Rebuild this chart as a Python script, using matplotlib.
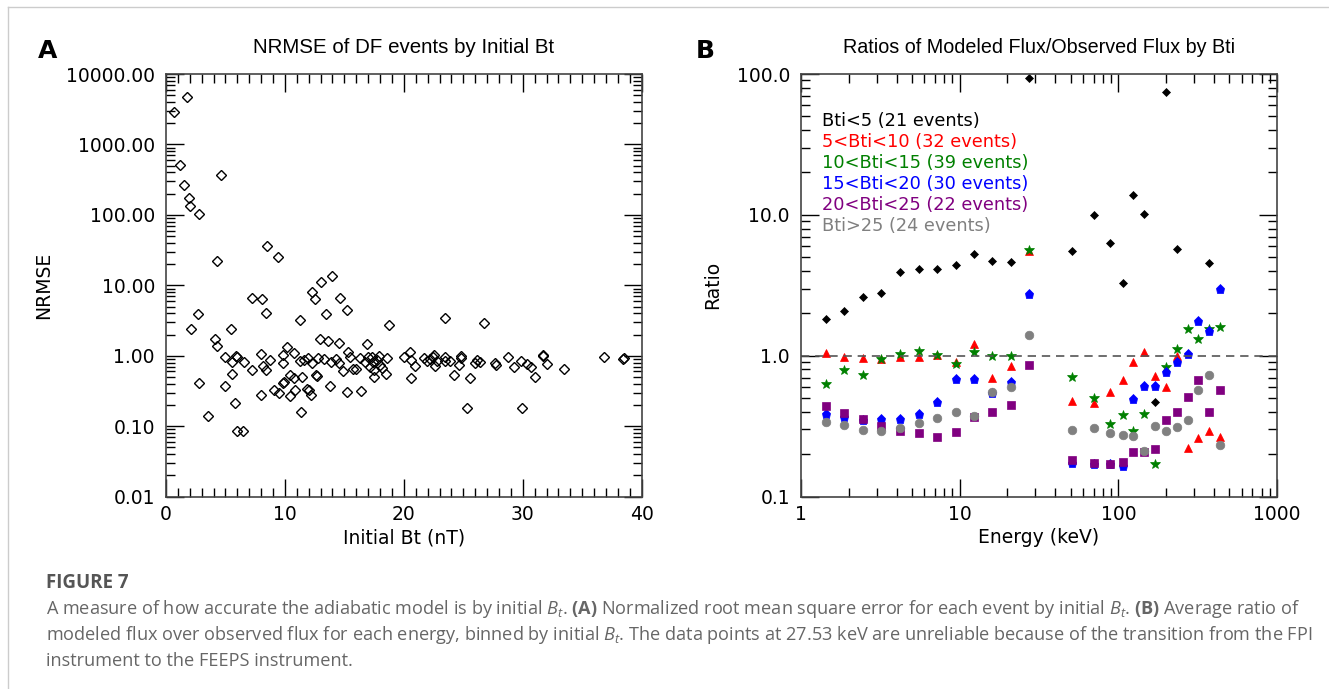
import numpy as np
import matplotlib
matplotlib.use('Agg')
import matplotlib.pyplot as plt
from matplotlib.ticker import FixedLocator, LogLocator, NullFormatter
from matplotlib.lines import Line2D

# panel A: NRMSE of each DF event vs initial Bt
bt_initial = [1.74, 0.67, 1.21, 4.6, 1.54, 1.96, 2.05, 2.75, 8.48, 9.38, 4.32, 13.98, 13.06, 12.24,
              7.27, 8.06, 12.49, 14.6, 15.22,
              2.72, 8.42, 13.43, 2.11, 5.45, 11.23, 18.76, 4.1, 4.32, 12.91, 13.59, 14.55, 16.9, 10.17,
              10.78, 15.27, 4.92, 5.92, 6.0, 6.57, 5.56, 8.0, 8.17, 8.74, 9.8, 9.83, 7.22, 8.42, 5.59,
              11.23, 11.57, 11.96, 12.27, 12.75, 13.31, 13.85, 14.3, 14.55, 14.85, 15.5, 15.75, 16.0,
              16.3, 16.7, 16.97, 17.35, 17.42, 17.52, 17.52, 17.78, 17.89, 18.03, 18.17, 18.53, 18.59,
              17.19, 2.81, 4.92, 5.84, 3.51, 6.0, 6.46, 7.98, 9.07, 9.46, 9.83, 9.92, 10.42, 10.42,
              10.73, 10.81, 11.35, 11.46, 11.82, 12.02, 12.16, 12.61, 12.72, 13.82, 15.25, 16.43,
              20.05, 20.5, 20.64, 20.95, 20.64, 21.68, 21.96, 22.18, 22.41, 22.52, 22.6, 22.75, 23.45,
              23.42, 23.5, 23.84, 24.2, 24.63, 24.77, 24.83, 25.33, 25.55, 26.0, 26.12, 26.4, 26.73,
              27.66, 27.72, 28.75, 29.26, 29.82, 29.9, 30.39, 30.67, 31.0, 31.73, 31.7, 32.07, 33.47,
              36.84, 38.39, 38.52]
nrmse = [4720, 2890, 519, 366, 270, 174, 133, 103, 36.3, 25.1, 22.0, 13.6, 11.0, 8.0,
         6.65, 6.31, 6.31, 6.58, 4.5,
         3.87, 3.99, 3.87, 2.39, 2.37, 3.18, 2.70, 1.74, 1.36, 1.71, 1.60, 1.50, 1.45, 1.32,
         1.10, 1.14, 0.96, 1.0, 0.97, 0.81, 0.82, 1.06, 0.72, 0.87, 1.03, 0.78, 0.627, 0.627, 0.55,
         0.85, 0.87, 0.94, 0.78, 0.92, 0.89, 0.82, 0.91, 0.80, 0.61, 0.95, 0.64, 0.65,
         0.93, 0.83, 0.97, 0.96, 0.81, 0.63, 0.50, 0.87, 1.0, 0.73, 0.68, 0.56, 0.94,
         0.70, 0.41, 0.37, 0.215, 0.141, 0.085, 0.085, 0.28, 0.33, 0.30, 0.41, 0.42, 0.54, 0.27,
         0.48, 0.33, 0.159, 0.50, 0.34, 0.33, 0.28, 0.53, 0.52, 0.37, 0.31, 0.32,
         0.95, 1.12, 0.87, 0.72, 0.49, 0.92, 0.84, 0.89, 0.95, 1.02, 0.71, 0.84, 3.39,
         0.97, 0.85, 0.85, 0.53, 0.73, 0.99, 0.93, 0.18, 0.48, 0.78, 0.87, 0.83, 2.88,
         0.80, 0.73, 0.95, 0.70, 0.84, 0.18, 0.76, 0.70, 0.50, 1.01, 0.98, 0.76, 0.66,
         0.96, 0.90, 0.94]

# panel B: modeled/observed flux ratio per energy channel (FPI then FEEPS)
energy = [1.43, 1.87, 2.46, 3.21, 4.21, 5.52, 7.19, 9.44, 12.3, 16.1, 21.1, 27.53,
          50.8, 69.9, 88.5, 106.4, 124.1, 144.8, 169.3, 199.5, 234.0, 273.3, 318.7, 372.4, 435.0]
nan = np.nan
ratio_bt0_5 = [1.82, 2.07, 2.61, 2.78, 3.94, 4.15, 4.15, 4.38, 5.25, 4.68, 4.62, 93.5,
               5.51, 10.0, 6.28, 3.29, 13.9, 10.2, 0.469, 74.8, 5.69, nan, nan, 4.53, nan]
ratio_bt5_10 = [1.04, 0.979, 0.957, 0.947, 0.979, 0.979, 1.01, 0.906, 1.217, 0.694, 0.849, 5.5,
                0.474, 0.466, 0.549, 0.675, 0.906, 1.067, 0.717, 0.599, 0.989, 0.222, 0.262, 0.291, 0.266]
ratio_bt10_15 = [0.632, 0.795, 0.725, 0.947, 1.033, 1.085, 1.01, 0.868, 1.062, 1.0, 1.0, 5.6,
                 0.709, 0.503, 0.327, 0.381, 0.295, 0.387, 0.171, 0.831, 1.121, 1.555, 1.321, 1.555, 1.607]
ratio_bt15_20 = [0.387, 0.367, 0.35, 0.355, 0.358, 0.387, 0.47, 0.679, 0.69, 0.543, 0.65, 2.74,
                 0.174, 0.172, 0.17, 0.166, 0.494, 0.612, 0.61, 0.769, 0.911, 1.033, 1.753, 1.50, 2.98]
ratio_bt20_25 = [0.439, 0.391, 0.355, 0.318, 0.291, 0.285, 0.267, 0.29, 0.369, 0.396, 0.451, 0.867,
                 0.182, 0.174, 0.171, 0.177, 0.209, 0.209, 0.219, 0.349, 0.402, 0.506, 0.668, 0.396, 0.576]
ratio_bt25 = [0.339, 0.325, 0.298, 0.293, 0.308, 0.332, 0.362, 0.402, 0.374, 0.555, 0.602, 1.41,
              0.296, 0.309, 0.284, 0.276, 0.271, 0.211, 0.316, 0.295, 0.311, 0.349, 0.57, 0.725, 0.233]

bin_labels = ['Bti<5 (21 events)', '5<Bti<10 (32 events)', '10<Bti<15 (39 events)',
              '15<Bti<20 (30 events)', '20<Bti<25 (22 events)', 'Bti>25 (24 events)']
bin_colors = ['black', 'red', 'green', 'blue', 'purple', 'gray']
bin_markers = ['D', '^', '*', 'p', 's', 'o']
bin_sizes = [3.9, 5.7, 7.8, 6.7, 5.4, 6.2]
bin_ratios = [ratio_bt0_5, ratio_bt5_10, ratio_bt10_15, ratio_bt15_20, ratio_bt20_25, ratio_bt25]

plt.rcParams['font.family'] = 'DejaVu Sans'
plt.rcParams['mathtext.fontset'] = 'custom'
plt.rcParams['mathtext.rm'] = 'Open Sans'
plt.rcParams['mathtext.it'] = 'Open Sans:italic'
plt.rcParams['mathtext.bf'] = 'Open Sans:bold'

W, H = 1329, 689
fig = plt.figure(figsize=(W / 100, H / 100), dpi=100)
axA = fig.add_axes([166 / W, 1 - 496.7 / H, 475.7 / W, 422.7 / H])
axB = fig.add_axes([801 / W, 1 - 496.7 / H, 476 / W, 422.7 / H])

spine_col = '#444444'
for ax in (axA, axB):
    for s in ax.spines.values():
        s.set_color(spine_col)
        s.set_linewidth(1.2)
    ax.tick_params(which='both', direction='in', top=True, right=True, colors='black',
                   labelsize=13.5, width=1.0)
    ax.tick_params(which='major', length=13)
    ax.tick_params(which='minor', length=6.5)
    ax.tick_params(axis='x', pad=6)
    ax.tick_params(axis='y', pad=8)

# ---- panel A
axA.plot(bt_initial, nrmse, linestyle='none', marker='D', ms=4.8, mfc='none', mec='black', mew=1.0)
axA.set_yscale('log')
axA.set_xlim(0, 40)
axA.set_ylim(0.01, 10000)
axA.set_xticks([0, 10, 20, 30, 40])
axA.set_xticks(np.arange(0, 41, 1), minor=True)
yt = [0.01, 0.1, 1, 10, 100, 1000, 10000]
axA.yaxis.set_major_locator(FixedLocator(yt))
axA.set_yticklabels(['%.2f' % v for v in yt])
axA.yaxis.set_minor_locator(LogLocator(base=10, subs=np.arange(2, 10)))
axA.yaxis.set_minor_formatter(NullFormatter())
axA.set_xlabel('Initial Bt (nT)', fontsize=13.5, labelpad=3)
axA.set_ylabel('NRMSE', fontsize=13.5, labelpad=9)
axA.set_title('NRMSE of DF events by Initial Bt', family='Liberation Sans', fontsize=14.8, pad=15)

# ---- panel B
for vals, col, mk, sz in zip(bin_ratios, bin_colors, bin_markers, bin_sizes):
    axB.plot(energy, vals, linestyle='none', marker=mk, ms=sz, color=col, mec=col, mew=0.5)
axB.axhline(1.0, color='#555555', linestyle=(0, (5, 3.5)), linewidth=1.2)
axB.set_xscale('log')
axB.set_yscale('log')
axB.set_xlim(1, 1000)
axB.set_ylim(0.1, 100)
axB.xaxis.set_major_locator(FixedLocator([1, 10, 100, 1000]))
axB.set_xticklabels(['1', '10', '100', '1000'])
axB.yaxis.set_major_locator(FixedLocator([0.1, 1, 10, 100]))
axB.set_yticklabels(['0.1', '1.0', '10.0', '100.0'])
for axis in (axB.xaxis, axB.yaxis):
    axis.set_minor_locator(LogLocator(base=10, subs=np.arange(2, 10)))
    axis.set_minor_formatter(NullFormatter())
axB.set_xlabel('Energy (keV)', fontsize=13.5, labelpad=3)
axB.set_ylabel('Ratio', fontsize=13.5, labelpad=10)
axB.set_title('Ratios of Modeled Flux/Observed Flux by Bti', family='Liberation Sans',
              fontsize=14.2, pad=15)

for i, (lab, col) in enumerate(zip(bin_labels, bin_colors)):
    axB.text(0.0435, 0.8895 - i * 0.0499, lab, color=col, fontsize=12.8,
             transform=axB.transAxes, ha='left', va='center')

# panel letters
fig.text(48 / W, 1 - 51 / H, 'A', fontsize=18, fontweight='bold', ha='center', va='center')
fig.text(705 / W, 1 - 51 / H, 'B', fontsize=18, fontweight='bold', ha='center', va='center')

# caption
cap_col = '#666666'
fig.text(46 / W, 1 - 583 / H, 'FIGURE 7', family='Open Sans', fontweight='bold', fontsize=13.5,
         color='#555555', ha='left', va='center')
cap_lines = [
    r'A measure of how accurate the adiabatic model is by initial $B_t$. $\mathbf{(A)}$ Normalized root '
    r'mean square error for each event by initial $B_t$. $\mathbf{(B)}$ Average ratio of',
    r'modeled flux over observed flux for each energy, binned by initial $B_t$. The data points at '
    r'27.53 keV are unreliable because of the transition from the FPI',
    'instrument to the FEEPS instrument.',
]
for i, line in enumerate(cap_lines):
    fig.text(46 / W, 1 - (609 + 26 * i) / H, line, family='Open Sans', fontsize=13.1,
             color=cap_col, ha='left', va='center')

# page frame
fig.add_artist(Line2D([8 / W, 1], [1 - 7 / H, 1 - 7 / H], color='#cccccc', lw=1.0))
fig.add_artist(Line2D([8 / W, 8 / W], [0, 1 - 7 / H], color='#cccccc', lw=1.0))

fig.savefig('out.png', dpi=100)
